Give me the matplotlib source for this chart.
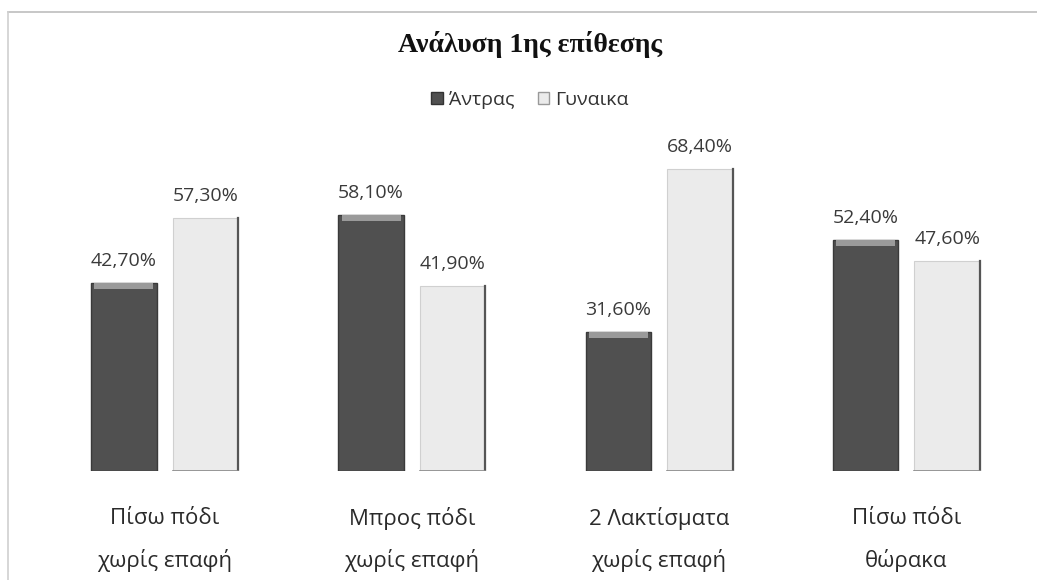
import matplotlib
matplotlib.use("Agg")
import matplotlib.pyplot as plt
from matplotlib.lines import Line2D
from matplotlib.patches import Patch
import numpy as np

categories = ["Πίσω πόδι\nχωρίς επαφή", "Μπρος πόδι\nχωρίς επαφή",
              "2 Λακτίσματα\nχωρίς επαφή", "Πίσω πόδι\nθώρακα"]
men = [42.7, 58.1, 31.6, 52.4]
women = [57.3, 41.9, 68.4, 47.6]
series_names = ["Άντρας", "Γυναικα"]
title = "Ανάλυση 1ης επίθεσης"

W, H = 1037, 580
fig = plt.figure(figsize=(W / 100, H / 100), dpi=100)
fig.patch.set_facecolor("white")

ax_l, ax_r = 41 / W, 1030 / W
ax_b = 1 - 471 / H
ax_t = 1 - (471 - 80 * 4.41) / H
ax = fig.add_axes([ax_l, ax_b, ax_r - ax_l, ax_t - ax_b])
ax.set_xlim(-0.5, 3.5)
ax.set_ylim(0, 80)
ax.axis("off")

x = np.arange(len(categories))
bw = 0.265
off = 0.165
dark = "#505050"
light = "#ebebeb"

ax.bar(x - off, men, bw, color=dark, edgecolor="#3a3a3a", linewidth=1.0, zorder=2)
ax.bar(x + off, women, bw, color=light, edgecolor="#d0d0d0", linewidth=0.8, zorder=2)
cap = 1.3
ax.bar(x - off, [cap] * 4, bw * 0.9, bottom=np.array(men) - cap * 1.1,
       color="#9a9a9a", linewidth=0, zorder=3)
for xi, v in zip(x + off, women):
    ax.plot([xi + bw / 2, xi + bw / 2], [0, v], color="#555555", lw=1.6, zorder=4)
    ax.plot([xi - bw / 2, xi + bw / 2], [0, 0], color="#888888", lw=1.2, zorder=4)

lab_font = dict(family=["Open Sans", "DejaVu Sans"], fontsize=14, color="#3a3a3a")
for xi, v in zip(x - off, men):
    ax.text(xi, v + 5.0, f"{v:.2f}%".replace(".", ","), ha="center", va="center", **lab_font)
for xi, v in zip(x + off, women):
    ax.text(xi, v + 5.0, f"{v:.2f}%".replace(".", ","), ha="center", va="center", **lab_font)

for xi, c in zip(x, categories):
    l1, l2 = c.split("\n")
    cx = ax_l + (xi + 0.5) / 4 * (ax_r - ax_l)
    fig.text(cx, 1 - 519 / H, l1, ha="center", va="center",
             family=["Open Sans", "DejaVu Sans"], fontsize=16, color="#2a2a2a")
    fig.text(cx, 1 - 560 / H, l2, ha="center", va="center",
             family=["Open Sans", "DejaVu Sans"], fontsize=16, color="#2a2a2a")

fig.text(530 / W, 1 - 45 / H, title, ha="center", va="center",
         family=["Liberation Serif", "DejaVu Serif"], fontweight="bold",
         fontsize=20, color="#111111")

handles = [Patch(facecolor=dark, edgecolor="#333333"),
           Patch(facecolor=light, edgecolor="#999999")]
fig.legend(handles, series_names, loc="center", bbox_to_anchor=(530 / W, 1 - 100 / H),
           ncol=2, frameon=False, handlelength=0.6, handleheight=0.6,
           handletextpad=0.3, columnspacing=1.2,
           prop=dict(family=["Open Sans", "DejaVu Sans"], size=14))
for t in fig.legends[0].get_texts():
    t.set_color("#333333")

fig.add_artist(Line2D([8 / W, 1], [1 - 12 / H, 1 - 12 / H], color="#bdbdbd", lw=1.2,
                      transform=fig.transFigure))
fig.add_artist(Line2D([8 / W, 8 / W], [1 - 12 / H, 0], color="#d0d0d0", lw=1.2,
                      transform=fig.transFigure))

fig.savefig("out.png", dpi=100, facecolor="white")
